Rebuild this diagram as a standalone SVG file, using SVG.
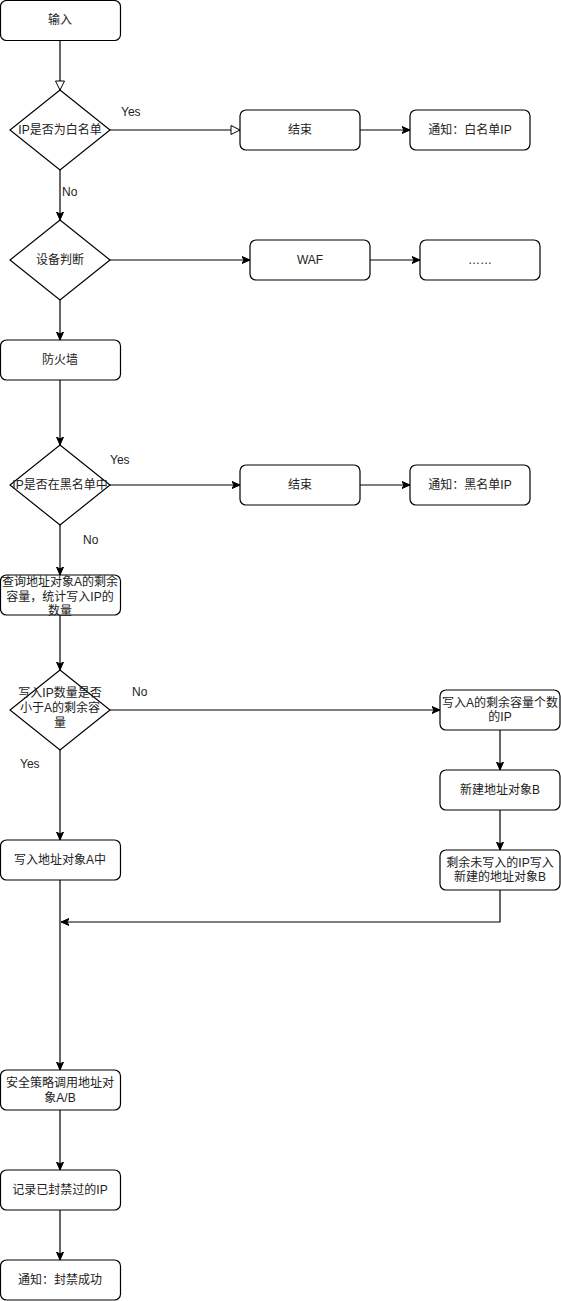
<svg xmlns="http://www.w3.org/2000/svg" width="561" height="1301" viewBox="0 0 561 1301">
<defs>
<marker id="af" markerWidth="10" markerHeight="8" refX="8" refY="4" orient="auto" markerUnits="userSpaceOnUse"><path d="M0,0.5 L8,4 L0,7.5 L2,4 z" fill="#000" stroke="#000" stroke-width="1"/></marker>
<marker id="ao" markerWidth="12" markerHeight="12" refX="10" refY="5.5" orient="auto" markerUnits="userSpaceOnUse"><path d="M1,1 L10,5.5 L1,10 z" fill="#fff" stroke="#000" stroke-width="1"/></marker>
<style>
.n rect,.n polygon{fill:#fff;stroke:#000;stroke-width:1.2}
text{font-family:"Liberation Sans","Noto Sans CJK SC",sans-serif;font-size:12px;fill:#222;text-anchor:middle;dominant-baseline:central}
.c path{fill:none;stroke:#000;stroke-width:1.2}
.f{marker-end:url(#af)}
.o{marker-end:url(#ao)}
.lbl{text-anchor:start}
</style>
</defs>
<rect width="561" height="1301" fill="#fff"/>
<g class="c">
<path class="o" d="M60,40 V90"/>
<path class="o" d="M110,130 H240"/>
<path class="f" d="M360,130 H410"/>
<path class="f" d="M60,170 V220"/>
<path class="f" d="M110,260 H250"/>
<path class="f" d="M370,260 H420"/>
<path class="f" d="M60,300 V340"/>
<path class="f" d="M60,380 V445"/>
<path class="f" d="M110,485 H240"/>
<path class="f" d="M360,485 H410"/>
<path class="f" d="M60,525 V575"/>
<path class="f" d="M60,615 V670"/>
<path class="f" d="M110,710 H440"/>
<path class="f" d="M500,730 V770"/>
<path class="f" d="M500,810 V850"/>
<path class="f" d="M500,890 V922 H61"/>
<path class="f" d="M60,750 V840"/>
<path class="f" d="M60,880 V1070"/>
<path class="f" d="M60,1110 V1170"/>
<path class="f" d="M60,1210 V1260"/>
<text class="lbl" x="121" y="112">Yes</text>
<text class="lbl" x="62" y="192">No</text>
<text class="lbl" x="110" y="460">Yes</text>
<text class="lbl" x="83" y="540">No</text>
<text class="lbl" x="132" y="692">No</text>
<text class="lbl" x="20" y="764">Yes</text>
</g>
<g id="n1" class="n"><rect x="0.5" y="0.5" width="120" height="40" rx="6"/><text x="60" y="20">输入</text></g>
<g id="n2" class="n"><polygon points="60,90 110,130 60,170 10,130"/><text x="60" y="130">IP是否为白名单</text></g>
<g id="n3" class="n"><rect x="240" y="110" width="120" height="40" rx="6"/><text x="300" y="130">结束</text></g>
<g id="n4" class="n"><rect x="410" y="110" width="120" height="40" rx="6"/><text x="470" y="130">通知：白名单IP</text></g>
<g id="n5" class="n"><polygon points="60,220 110,260 60,300 10,260"/><text x="60" y="260">设备判断</text></g>
<g id="n6" class="n"><rect x="250" y="240" width="120" height="40" rx="6"/><text x="310" y="260">WAF</text></g>
<g id="n7" class="n"><rect x="420" y="240" width="120" height="40" rx="6"/><text x="480" y="260">……</text></g>
<g id="n8" class="n"><rect x="0.5" y="340" width="120" height="40" rx="6"/><text x="60" y="360">防火墙</text></g>
<g id="n9" class="n"><polygon points="60,445 110,485 60,525 10,485"/><text x="60" y="485">IP是否在黑名单中</text></g>
<g id="n10" class="n"><rect x="240" y="465" width="120" height="40" rx="6"/><text x="300" y="485">结束</text></g>
<g id="n11" class="n"><rect x="410" y="465" width="120" height="40" rx="6"/><text x="470" y="485">通知：黑名单IP</text></g>
<g id="n12" class="n"><rect x="0.5" y="575" width="120" height="40" rx="6"/><text x="60" y="582">查询地址对象A的剩余</text><text x="60" y="597">容量，统计写入IP的</text><text x="60" y="611">数量</text></g>
<g id="n13" class="n"><polygon points="60,670 110,710 60,750 10,710"/><text x="60" y="693">写入IP数量是否</text><text x="60" y="708">小于A的剩余容</text><text x="60" y="723">量</text></g>
<g id="n14" class="n"><rect x="440" y="690" width="120" height="40" rx="6"/><text x="500" y="703">写入A的剩余容量个数</text><text x="500" y="717">的IP</text></g>
<g id="n15" class="n"><rect x="440" y="770" width="120" height="40" rx="6"/><text x="500" y="790">新建地址对象B</text></g>
<g id="n16" class="n"><rect x="440" y="850" width="120" height="40" rx="6"/><text x="500" y="863">剩余未写入的IP写入</text><text x="500" y="877">新建的地址对象B</text></g>
<g id="n17" class="n"><rect x="0.5" y="840" width="120" height="40" rx="6"/><text x="60" y="860">写入地址对象A中</text></g>
<g id="n18" class="n"><rect x="0.5" y="1070" width="120" height="40" rx="6"/><text x="60" y="1083">安全策略调用地址对</text><text x="60" y="1098">象A/B</text></g>
<g id="n19" class="n"><rect x="0.5" y="1170" width="120" height="40" rx="6"/><text x="60" y="1190">记录已封禁过的IP</text></g>
<g id="n20" class="n"><rect x="0.5" y="1260" width="120" height="40" rx="6"/><text x="60" y="1280">通知：封禁成功</text></g>
</svg>
